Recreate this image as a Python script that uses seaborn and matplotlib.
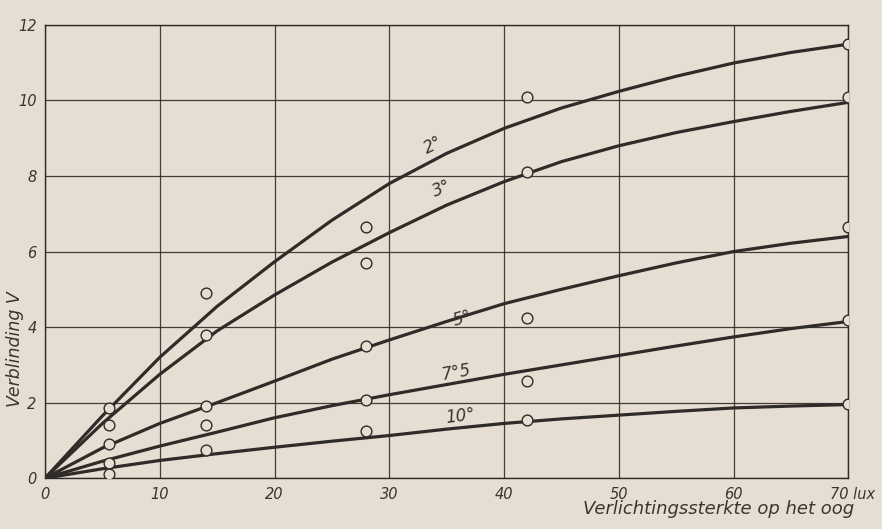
import matplotlib
matplotlib.use("Agg")
import matplotlib.pyplot as plt
import matplotlib.transforms as mtransforms
import numpy as np
import pandas as pd
import seaborn as sns

# Measured glare points (illuminance at the eye, lux)
lux_points = [5.6, 14, 28, 42, 70]
glare_2 = [1.85, 4.9, 6.64, 10.1, 11.5]
glare_3 = [1.4, 3.8, 5.69, 8.1, 10.1]
glare_5 = [0.9, 1.91, 3.5, 4.24, 6.65]
glare_7_5 = [0.39, 1.4, 2.06, 2.58, 4.2]
glare_10 = [0.12, 0.74, 1.25, 1.55, 1.97]

# Drawn curves, read every 5 lux
lux_curve = [0, 5, 10, 15, 20, 25, 30, 35, 40, 45, 50, 55, 60, 65, 70]
curve_2 = [0, 1.65, 3.2, 4.55, 5.73, 6.83, 7.8, 8.6, 9.26, 9.8, 10.24, 10.64, 10.99, 11.27, 11.49]
curve_3 = [0, 1.45, 2.75, 3.9, 4.85, 5.72, 6.5, 7.23, 7.85, 8.38, 8.8, 9.15, 9.44, 9.71, 9.95]
curve_5 = [0, 0.8, 1.45, 2.0, 2.57, 3.15, 3.66, 4.15, 4.62, 5.0, 5.36, 5.7, 6.0, 6.22, 6.4]
curve_7_5 = [0, 0.45, 0.85, 1.22, 1.6, 1.92, 2.21, 2.48, 2.75, 3.0, 3.25, 3.5, 3.74, 3.96, 4.15]
curve_10 = [0, 0.25, 0.47, 0.65, 0.82, 0.98, 1.13, 1.3, 1.45, 1.57, 1.67, 1.77, 1.86, 1.91, 1.95]

angles = ["2°", "3°", "5°", "7°5", "10°"]
label_pos = [(33.8, 8.8, 26), (34.6, 7.67, 22), (36.4, 4.22, 16), (35.8, 2.81, 10), (36.2, 1.64, 7)]

x_ticks = [0, 10, 20, 30, 40, 50, 60, 70]
x_ticklabels = ["0", "10", "20", "30", "40", "50", "60", "70 lux"]
y_ticks = [0, 2, 4, 6, 8, 10, 12]

point_sets = [glare_2, glare_3, glare_5, glare_7_5, glare_10]
curve_sets = [curve_2, curve_3, curve_5, curve_7_5, curve_10]

points = pd.DataFrame(
    [(x, y, a) for a, ys in zip(angles, point_sets) for x, y in zip(lux_points, ys)],
    columns=["lux", "V", "angle"],
)
curves = pd.DataFrame(
    [(x, y, a) for a, ys in zip(angles, curve_sets) for x, y in zip(lux_curve, ys)],
    columns=["lux", "V", "angle"],
)

paper = "#e7ded3"
ink = "#2f2b28"
text_ink = "#3a3531"

sns.set_theme(style="white")
plt.rcParams["font.family"] = ["DejaVu Sans"]

fig = plt.figure(figsize=(8.82, 5.29), dpi=100, facecolor=paper)
ax = fig.add_axes([0.051, 0.096, 0.911, 0.857], facecolor=paper)

sns.lineplot(data=curves, x="lux", y="V", hue="angle", palette=[ink] * 5,
             linewidth=2.3, legend=False, ax=ax, zorder=3)
sns.scatterplot(data=points, x="lux", y="V", marker="o", s=60,
                facecolor=paper, edgecolor=ink, linewidth=1.0,
                legend=False, ax=ax, zorder=4)

ax.set_xlim(0, 70)
ax.set_ylim(0, 12)
ax.set_xticks(x_ticks)
ax.set_yticks(y_ticks)
ax.set_xticklabels(x_ticklabels)
ax.grid(True, color=ink, linewidth=0.9, alpha=0.9)
for s in ax.spines.values():
    s.set_color(ink)
    s.set_linewidth(1.0)
    s.set_visible(True)
ax.tick_params(length=0, labelsize=10.5, labelcolor=text_ink, pad=6)
for t in ax.get_xticklabels() + ax.get_yticklabels():
    t.set_fontstyle("italic")
last = ax.get_xticklabels()[-1]
last.set_horizontalalignment("left")
last.set_transform(last.get_transform() + mtransforms.ScaledTranslation(-18 / 100, 0, fig.dpi_scale_trans))

ax.set_xlabel("")
ax.set_ylabel("")
fig.text(0.661, 0.02, "Verlichtingssterkte op het oog", fontsize=13, style="italic",
         color=text_ink, ha="left", va="bottom")
fig.text(0.017, 0.34, "Verblinding V", fontsize=12.5, style="italic", rotation=90,
         color=text_ink, ha="center", va="center")

for a, (lx, ly, rot) in zip(angles, label_pos):
    ax.text(lx, ly, a, fontsize=12, style="italic", color=text_ink,
            rotation=rot, ha="center", va="center", zorder=5)

fig.savefig("out.png", dpi=100, facecolor=paper)
